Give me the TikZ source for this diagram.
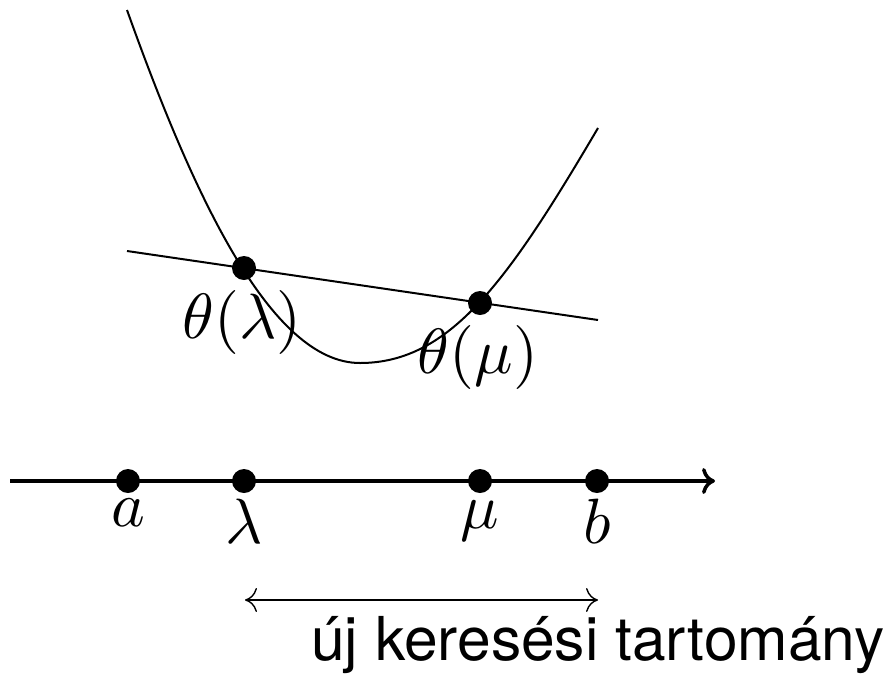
\documentclass[tikz,border=0pt]{standalone}
\usepackage{fontspec}
\newfontfamily\heros{TeX Gyre Heros}
\usetikzlibrary{arrows.meta}
\newcommand{\mylblmath}[1]{\scalebox{6.4}{$#1$}}
\tikzset{
  dot/.style={circle,fill=black,inner sep=0pt,minimum size=24pt},
  mathlbl/.style={inner sep=0pt},
  curveline/.style={line width=2pt},
  axisline/.style={line width=3.5pt,-{Computer Modern Rightarrow[length=13pt,width=26pt]}},
  rangearrow/.style={line width=1.4pt,{Computer Modern Rightarrow[length=12pt,width=24pt]}-{Computer Modern Rightarrow[length=12pt,width=24pt]}}
}
\begin{document}
\begin{tikzpicture}[x=1pt,y=-1pt]
\useasboundingbox (0,0) rectangle (888,675);
% function curve
\coordinate (c0) at (127,10);
\coordinate (cmin) at (360,363);
\coordinate (c1) at (598,128);
\draw[curveline] (c0) .. controls (192,192) and (270,363) .. (cmin)
  .. controls (450,363) and (508,281) .. (c1);
% secant line
\coordinate (sl) at (127,251);
\coordinate (sr) at (598,320);
\draw[curveline] (sl) -- (sr);
\node[dot] (tl) at (244,268) {};
\node[dot] (tm) at (480,303) {};
\node[mathlbl,anchor=north] (ltl) at (242,290) {\mylblmath{\theta(\lambda)}};
\node[mathlbl,anchor=north] (ltm) at (478,325) {\mylblmath{\theta(\mu)}};
% axis
\coordinate (ax0) at (10,481);
\coordinate (ax1) at (715,481);
\draw[axisline] (ax0) -- (ax1);
\node[dot] (pa) at (128,481) {};
\node[dot] (pl) at (244,481) {};
\node[dot] (pm) at (480,481) {};
\node[dot] (pb) at (597,481) {};
\node[mathlbl,anchor=north] (la) at (128,499) {\mylblmath{a}};
\node[mathlbl,anchor=north] (ll) at (244,499) {\mylblmath{\lambda}};
\node[mathlbl,anchor=north] (lm) at (480,501) {\mylblmath{\mu}};
\node[mathlbl,anchor=north] (lb) at (597,499) {\mylblmath{b}};
% new range
\coordinate (r0) at (245,600);
\coordinate (r1) at (598,600);
\draw[rangearrow] (r0) -- (r1);
\node[inner sep=0pt,anchor=base west,font=\heros\fontsize{60.5}{66}\selectfont] (txt) at (311,660) {új keresési tartomány};
\end{tikzpicture}
\end{document}
